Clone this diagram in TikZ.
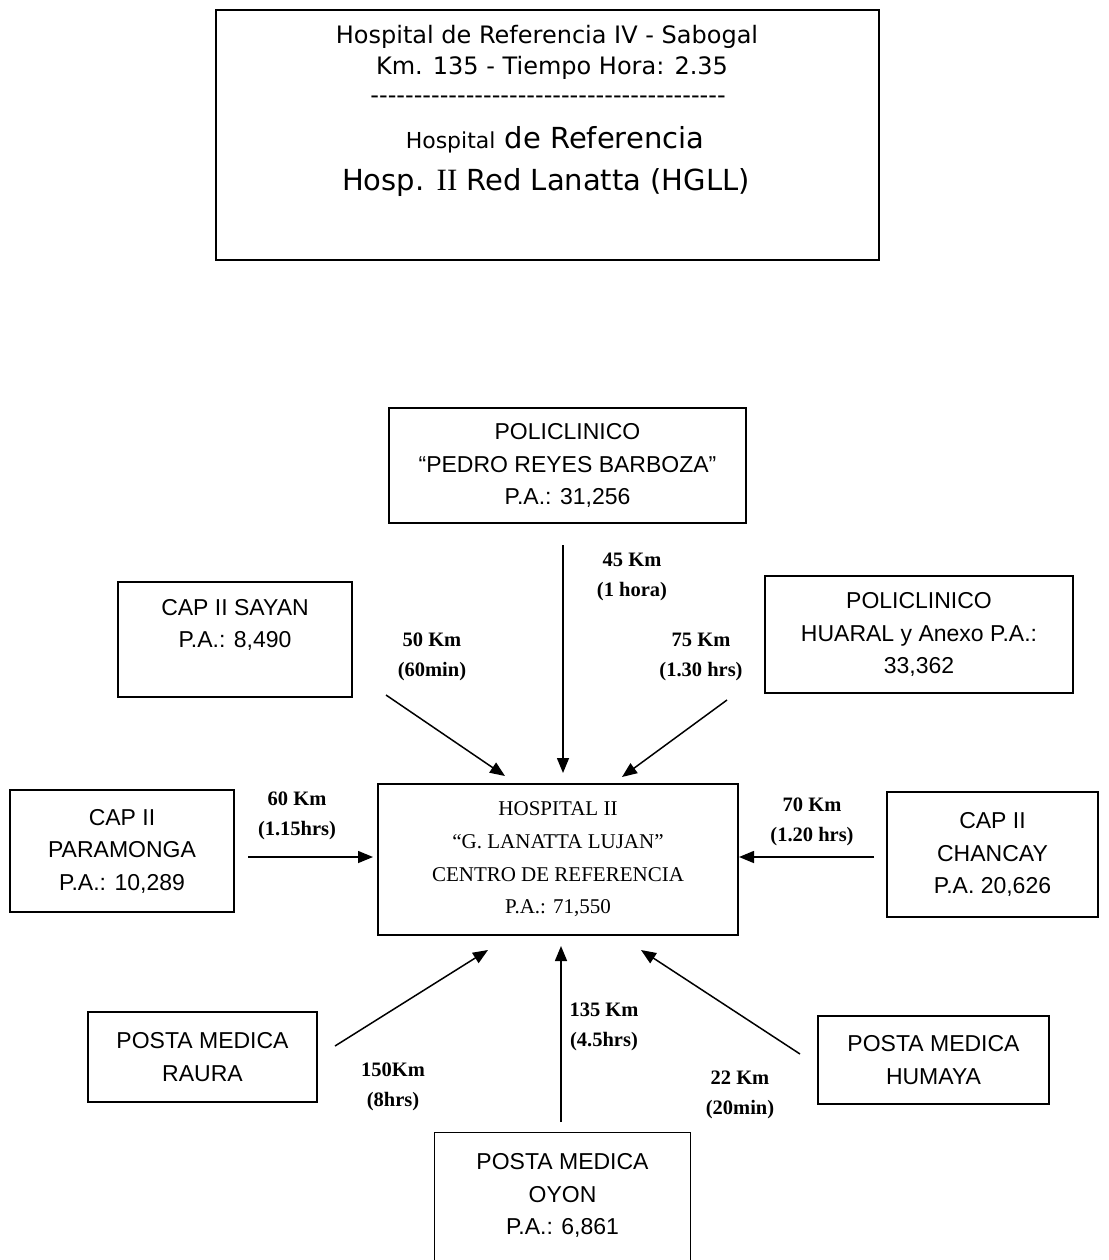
\documentclass[tikz,border=0pt]{standalone}
\usepackage{fontspec}
\setmainfont{Liberation Serif}
\setsansfont{Liberation Sans}
\newfontfamily\tahoma{DejaVu Sans}
\usepackage{tikz}
\usetikzlibrary{arrows.meta}
\tikzstyle{box} = [draw, line width=1.4pt, inner sep=0pt, align=center, font=\sffamily\fontsize{23}{32.5}\selectfont]
\tikzstyle{dist} = [align=center, inner sep=0pt, font=\bfseries\fontsize{20.5}{30}\selectfont]
\tikzstyle{arrow} = [-{Triangle[length=15pt,width=12pt]}, line width=1.5pt]
\newcommand{\dashrow}{\foreach \k in {1,...,41}{-\kern0pt}}

\begin{document}
\begin{tikzpicture}[x=1pt, y=-1pt]
      \useasboundingbox (0,0) rectangle (1108,1260);
      \clip (0,0) rectangle (1108,1260);
      % reference box on top
      \node[draw, line width=1.4pt, minimum width=663pt, minimum height=250pt] (ref) at (547.5,135) {};
      \node[font=\tahoma\fontsize{24}{28}\selectfont] (ref1) at (547,37) {Hospital de Referencia IV - Sabogal};
      \node[font=\tahoma\fontsize{24}{28}\selectfont] (ref2) at (552,68) {Km. 135 - Tiempo Hora: 2.35};
      \node[font=\tahoma\fontsize{24}{28}\selectfont] (refdash) at (548,100) {\dashrow};
      \node[font=\tahoma\fontsize{29}{34}\selectfont] (ref3) at (555,140) {{\fontsize{22}{26}\selectfont Hospital} de Referencia};
      \node[font=\tahoma\fontsize{29}{34}\selectfont] (ref4) at (546,183) {Hosp. {\rmfamily\fontsize{31}{34}\selectfont II} Red Lanatta (HGLL)};
      % centre and the boxes round it
      \node[box, font=\rmfamily\fontsize{21}{32.7}\selectfont, minimum width=360pt, minimum height=151pt] (hosp) at (558,859.5) {HOSPITAL II\\``G. LANATTA LUJAN''\\CENTRO DE REFERENCIA\\P.A.: 71,550};
      \node[box, minimum width=357pt, minimum height=115pt] (pedro) at (567.5,465.5) {POLICLINICO\\``PEDRO REYES BARBOZA''\\P.A.: 31,256};
      \node[box, minimum width=234pt, minimum height=115pt, text depth=32pt] (sayan) at (235,639.5) {CAP II SAYAN\\P.A.: 8,490};
      \node[box, minimum width=308pt, minimum height=117pt] (huaral) at (919,634.5) {POLICLINICO\\HUARAL y Anexo P.A.:\\33,362};
      \node[box, minimum width=224pt, minimum height=122pt] (paramonga) at (122,851) {CAP II\\PARAMONGA\\P.A.: 10,289};
      \node[box, minimum width=211pt, minimum height=125pt] (chancay) at (992.5,854.5) {CAP II\\CHANCAY\\P.A. 20,626};
      \node[box, minimum width=229pt, minimum height=90pt] (raura) at (202.5,1057) {POSTA MEDICA\\RAURA};
      \node[box, minimum width=231pt, minimum height=88pt] (humaya) at (933.5,1060) {POSTA MEDICA\\HUMAYA};
      \node[box, draw=none, minimum width=255pt, minimum height=125pt] (oyon) at (562.5,1195.5) {POSTA MEDICA\\OYON\\P.A.: 6,861};
      \draw[line width=1.4pt] ([yshift=-6pt]oyon.south west) -- (oyon.north west) -- (oyon.north east) -- ([yshift=-6pt]oyon.south east);
      % arrow ends
      \coordinate (pedroA) at (563,545);   \coordinate (pedroB) at (563,773);
      \coordinate (sayanA) at (386,695);   \coordinate (sayanB) at (505,776);
      \coordinate (huaralA) at (727,700);  \coordinate (huaralB) at (622,777);
      \coordinate (paramA) at (248,857);   \coordinate (paramB) at (373,857);
      \coordinate (chancayA) at (874,857); \coordinate (chancayB) at (739,857);
      \coordinate (rauraA) at (335,1046);  \coordinate (rauraB) at (488,950);
      \coordinate (oyonA) at (561,1122);   \coordinate (oyonB) at (561,946);
      \coordinate (humayaA) at (800,1054); \coordinate (humayaB) at (641,950);
      \draw[arrow] (pedroA) -- (pedroB);
      \draw[arrow] (sayanA) -- (sayanB);
      \draw[arrow] (huaralA) -- (huaralB);
      \draw[arrow] (paramA) -- (paramB);
      \draw[arrow] (chancayA) -- (chancayB);
      \draw[arrow] (rauraA) -- (rauraB);
      \draw[arrow] (oyonA) -- (oyonB);
      \draw[arrow] (humayaA) -- (humayaB);
      % distances
      \node[dist] (dpedro) at (632,577) {45 Km\\(1 hora)};
      \node[dist] (dsayan) at (432,657) {50 Km\\(60min)};
      \node[dist] (dhuaral) at (701,657) {75 Km\\(1.30 hrs)};
      \node[dist] (dparam) at (297,816) {60 Km\\(1.15hrs)};
      \node[dist] (dchancay) at (812,822) {70 Km\\(1.20 hrs)};
      \node[dist] (draura) at (393,1087) {150Km\\(8hrs)};
      \node[dist] (doyon) at (604,1027) {135 Km\\(4.5hrs)};
      \node[dist] (dhumaya) at (740,1095) {22 Km\\(20min)};
\end{tikzpicture}
\end{document}
